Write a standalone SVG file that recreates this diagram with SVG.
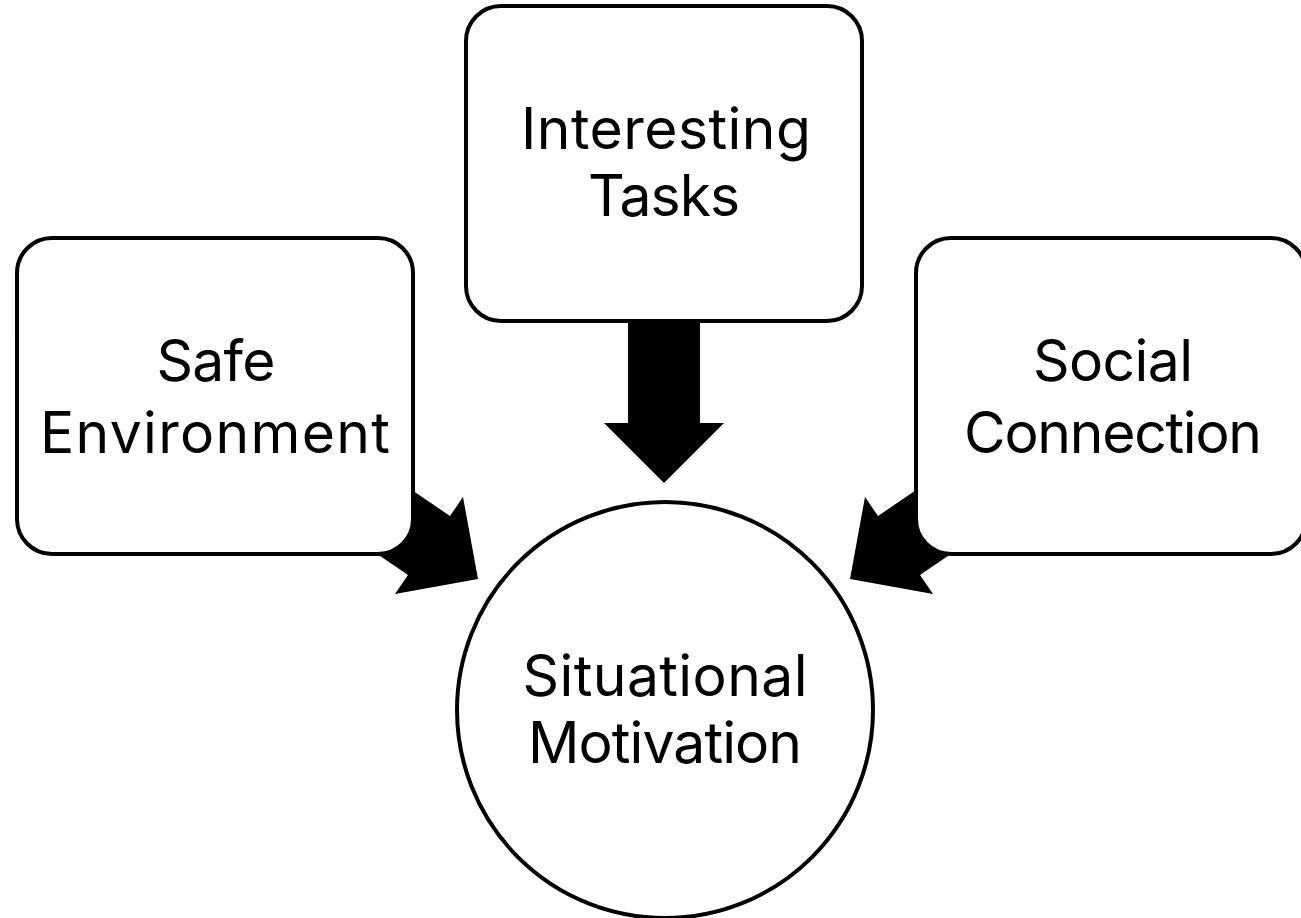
<svg xmlns="http://www.w3.org/2000/svg" width="1301" height="918" viewBox="0 0 1301 918">
<style>
.box{fill:#fff;stroke:#000;stroke-width:4}
.arr{fill:#000;stroke:none}
.lbl{font-family:Inter,"Noto Sans","Liberation Sans",sans-serif;font-size:57px;fill:#000;text-anchor:middle}
</style>
<rect width="1301" height="918" fill="#fff"/>
<g id="connectors">
<polygon class="arr" points="628,300 700,300 700,423 724,423 664,483 604,423 628,423"/>
<polygon class="arr" points="384,471 450,516 463,497 478,579 395,594 408,575 342,530"/>
<polygon class="arr" points="944,471 878,516 865,497 850,579 933,594 920,575 986,530"/>
</g>
<g id="node-interesting">
<rect class="box" x="466" y="6" width="396" height="315" rx="35"/>
<text class="lbl" x="666" y="149" textLength="290" lengthAdjust="spacing">Interesting</text>
<text class="lbl" x="664" y="216" textLength="152" lengthAdjust="spacing">Tasks</text>
</g>
<g id="node-safe">
<rect class="box" x="17" y="238" width="396" height="316" rx="35"/>
<text class="lbl" x="216" y="381" textLength="119" lengthAdjust="spacing">Safe</text>
<text class="lbl" x="215" y="453" textLength="350" lengthAdjust="spacing">Environment</text>
</g>
<g id="node-social">
<rect class="box" x="916" y="238" width="390" height="316" rx="35"/>
<text class="lbl" x="1113" y="381" textLength="160" lengthAdjust="spacing">Social</text>
<text class="lbl" x="1113" y="453" textLength="298" lengthAdjust="spacing">Connection</text>
</g>
<g id="node-situational">
<circle class="box" cx="665" cy="710" r="208"/>
<text class="lbl" x="665" y="696" textLength="285" lengthAdjust="spacing">Situational</text>
<text class="lbl" x="665" y="763" textLength="274" lengthAdjust="spacing">Motivation</text>
</g>
</svg>
